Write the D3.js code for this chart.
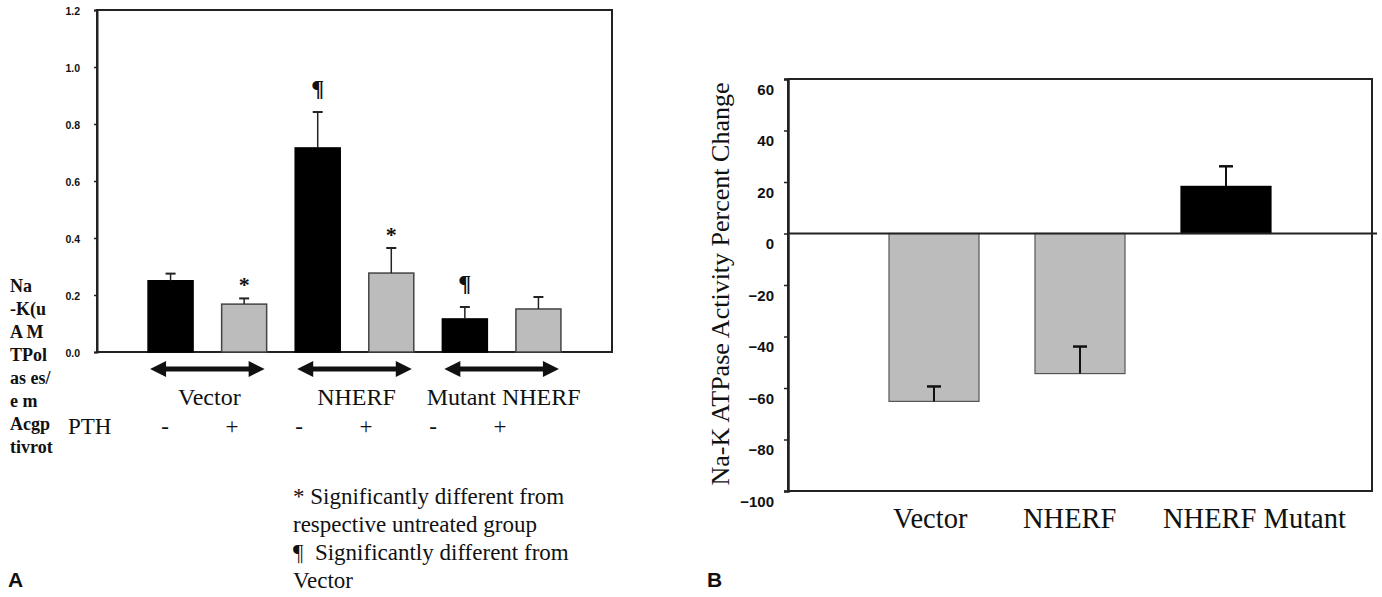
<!DOCTYPE html>
<html>
<head>
<meta charset="utf-8">
<script src="https://cdn.jsdelivr.net/npm/d3@7"></script>
<style>
  html, body { margin: 0; padding: 0; background: #fff; }
  svg { display: block; }
  .serif { font-family: "Liberation Serif", "Times New Roman", serif; fill: #111; }
  .sans { font-family: "Liberation Sans", Arial, sans-serif; font-weight: bold; fill: #111; }
</style>
</head>
<body>
<svg id="chart" width="1382" height="597"></svg>
<script>
// panel A data
const catsA = ["Vector -", "Vector +", "NHERF -", "NHERF +", "Mutant -", "Mutant +"];
const valuesA = [0.25, 0.168, 0.716, 0.277, 0.116, 0.151];
const errorsA = [0.025, 0.02, 0.126, 0.088, 0.042, 0.042];
const pthA = ["-", "+", "-", "+", "-", "+"];
const marksA = ["", "*", "\u00b6", "*", "\u00b6", ""];
const groupsA = ["Vector", "NHERF", "Mutant NHERF"];
const ticksA = [0, 0.2, 0.4, 0.6, 0.8, 1.0, 1.2];
const tickLabelsA = ["0.0", "0.2", "0.4", "0.6", "0.8", "1.0", "1.2"];
const ylabelA = ["Na", "-K(u", "A M", "TPol", "as es/", "e m", "Acgp", "tivrot"];
const notesA = ["* Significantly different from", "respective untreated group", "\u00b6  Significantly different from", "Vector"];

// panel B data
const catsB = ["Vector", "NHERF", "NHERF Mutant"];
const valuesB = [-65.2, -54.4, 18.3];
const errorsB = [5.8, 10.5, 7.8];
const ticksB = [60, 40, 20, 0, -20, -40, -60, -80, -100];

const GREY = "#bcbcbc";
const svg = d3.select("#chart");

// ---------- panel A ----------
const a = { left: 97, right: 612, top: 10, bottom: 352 };
const xA = d3.scalePoint().domain(catsA).range([a.left, a.right]).padding(1);
const yA = d3.scaleLinear().domain([0, 1.2]).range([a.bottom, a.top]);
const bwA = 45;
const gA = svg.append("g");

// frame
gA.append("rect")
  .attr("x", a.left).attr("y", a.top)
  .attr("width", a.right - a.left).attr("height", a.bottom - a.top)
  .attr("fill", "none").attr("stroke", "#222").attr("stroke-width", 2);

const axA = gA.append("g")
  .attr("transform", `translate(${a.left},0)`)
  .call(d3.axisLeft(yA).tickValues(ticksA).tickSize(3).tickPadding(14)
    .tickFormat((d, i) => tickLabelsA[i]));
axA.select(".domain").attr("stroke", "#222").attr("stroke-width", 2);
axA.selectAll(".tick line").attr("stroke", "#222").attr("stroke-width", 1.5);
axA.selectAll(".tick text").attr("class", "sans").attr("font-size", 10.5).attr("dy", "0.45em");

// bars
gA.selectAll("rect.bar").data(catsA).enter().append("rect")
  .attr("class", "bar")
  .attr("x", d => xA(d) - bwA / 2)
  .attr("y", (d, i) => yA(valuesA[i]))
  .attr("width", bwA)
  .attr("height", (d, i) => yA(0) - yA(valuesA[i]))
  .attr("fill", (d, i) => pthA[i] === "+" ? GREY : "#000")
  .attr("stroke", (d, i) => pthA[i] === "+" ? "#444" : "#000")
  .attr("stroke-width", 1.5);

// error bars
catsA.forEach((c, i) => {
  const cx = xA(c), y0 = yA(valuesA[i]), y1 = yA(valuesA[i] + errorsA[i]);
  gA.append("line").attr("x1", cx).attr("x2", cx).attr("y1", y0).attr("y2", y1)
    .attr("stroke", "#222").attr("stroke-width", 1.5);
  gA.append("line").attr("x1", cx - 5).attr("x2", cx + 5).attr("y1", y1).attr("y2", y1)
    .attr("stroke", "#222").attr("stroke-width", 2);
  if (marksA[i]) {
    gA.append("text").attr("class", "serif")
      .attr("x", cx).attr("y", y1 - (marksA[i] === "*" ? 6 : 16))
      .attr("text-anchor", "middle")
      .attr("font-size", marksA[i] === "*" ? 22 : 24)
      .attr("font-weight", "bold")
      .text(marksA[i]);
  }
});

// double-headed arrows + group labels
groupsA.forEach((g, k) => {
  const x0 = xA(catsA[2 * k]) - bwA / 2 + 2, x1 = xA(catsA[2 * k + 1]) + bwA / 2 - 2;
  const yy = 369, h = 8, t = 2.5, hl = 16;
  const pts = [[x0, yy], [x0 + hl, yy - h], [x0 + hl, yy - t], [x1 - hl, yy - t], [x1 - hl, yy - h],
    [x1, yy], [x1 - hl, yy + h], [x1 - hl, yy + t], [x0 + hl, yy + t], [x0 + hl, yy + h]];
  gA.append("path").attr("d", d3.line()(pts) + "Z").attr("fill", "#111");
  gA.append("text").attr("class", "serif")
    .attr("x", (x0 + x1) / 2 + 2).attr("y", 405)
    .attr("text-anchor", "middle").attr("font-size", 24)
    .text(g);
});

// PTH row
const xPth = d3.scalePoint().domain(catsA).range([165, 500]);
gA.append("text").attr("class", "serif").attr("x", 68).attr("y", 434)
  .attr("font-size", 23).text("PTH");
gA.selectAll("text.pth").data(catsA).enter().append("text")
  .attr("class", "serif pth")
  .attr("x", d => xPth(d)).attr("y", 434)
  .attr("text-anchor", "middle").attr("font-size", 23)
  .text((d, i) => pthA[i]);

// scrambled y label
gA.selectAll("text.ylab").data(ylabelA).enter().append("text")
  .attr("class", "serif ylab")
  .attr("x", 10).attr("y", (d, i) => 292 + i * 23)
  .attr("font-size", 18).attr("font-weight", "bold")
  .style("white-space", "pre")
  .text(d => d);

// notes
gA.selectAll("text.note").data(notesA).enter().append("text")
  .attr("class", "serif note")
  .attr("x", 293).attr("y", (d, i) => 504 + i * 28)
  .attr("font-size", 23)
  .style("white-space", "pre")
  .text(d => d);

svg.append("text").attr("class", "sans").attr("x", 8).attr("y", 587)
  .attr("font-size", 21).text("A");

// ---------- panel B ----------
const b = { left: 788, right: 1372, top: 79, bottom: 491 };
const xB = d3.scalePoint().domain(catsB).range([b.left, b.right]).padding(1);
const yB = d3.scaleLinear().domain([-100, 60]).range([b.bottom, b.top]);
const bwB = 90;
const gB = svg.append("g");

gB.append("rect")
  .attr("x", b.left).attr("y", b.top)
  .attr("width", b.right - b.left).attr("height", b.bottom - b.top)
  .attr("fill", "none").attr("stroke", "#222").attr("stroke-width", 2);

const axB = gB.append("g")
  .attr("transform", `translate(${b.left},0)`)
  .call(d3.axisLeft(yB).tickValues(ticksB).tickSize(4).tickPadding(10));
axB.select(".domain").attr("stroke", "#222").attr("stroke-width", 2.5);
axB.selectAll(".tick line").attr("stroke", "#222").attr("stroke-width", 1.5);
axB.selectAll(".tick text").attr("class", "sans").attr("font-size", 15).attr("dy", "1.0em");

gB.selectAll("rect.bar").data(catsB).enter().append("rect")
  .attr("class", "bar")
  .attr("x", d => xB(d) - bwB / 2)
  .attr("y", (d, i) => yB(Math.max(0, valuesB[i])))
  .attr("width", bwB)
  .attr("height", (d, i) => Math.abs(yB(valuesB[i]) - yB(0)))
  .attr("fill", (d, i) => valuesB[i] < 0 ? GREY : "#000")
  .attr("stroke", (d, i) => valuesB[i] < 0 ? "#555" : "#000")
  .attr("stroke-width", 1.2);

// zero line
gB.append("line")
  .attr("x1", b.left).attr("x2", b.right + 5)
  .attr("y1", yB(0)).attr("y2", yB(0))
  .attr("stroke", "#222").attr("stroke-width", 2);

catsB.forEach((c, i) => {
  const cx = xB(c), y0 = yB(valuesB[i]), y1 = yB(valuesB[i] + errorsB[i]);
  gB.append("line").attr("x1", cx).attr("x2", cx).attr("y1", y0).attr("y2", y1)
    .attr("stroke", "#111").attr("stroke-width", 2);
  gB.append("line").attr("x1", cx - 7).attr("x2", cx + 7).attr("y1", y1).attr("y2", y1)
    .attr("stroke", "#111").attr("stroke-width", 2.5);
});

// category labels (typed as one line in the original, so spaced by hand)
const labelStartB = [893, 1023, 1163];
gB.selectAll("text.cat").data(catsB).enter().append("text")
  .attr("class", "serif cat")
  .attr("x", (d, i) => labelStartB[i]).attr("y", 528)
  .attr("font-size", 28.5)
  .text(d => d);

gB.append("text").attr("class", "serif")
  .attr("transform", `translate(729,${(b.top + b.bottom) / 2 - 1}) rotate(-90)`)
  .attr("text-anchor", "middle").attr("font-size", 26)
  .text("Na-K ATPase Activity Percent Change");

svg.append("text").attr("class", "sans").attr("x", 707).attr("y", 587)
  .attr("font-size", 21).text("B");
</script>
</body>
</html>
